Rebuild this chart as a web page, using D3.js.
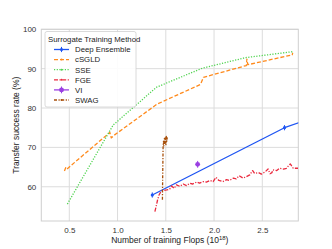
<!DOCTYPE html>
<html><head><meta charset="utf-8">
<script src="https://cdn.jsdelivr.net/npm/d3@7"></script>
<style>body{margin:0;background:#fff}svg{display:block}text{font-family:"Liberation Sans",Arial,sans-serif}</style>
</head><body><svg id="c" width="332" height="249"></svg>
<script>
const xTicks=[0.5,1.0,1.5,2.0,2.5];
const yTicks=[60,70,80,90,100];
const deepEnsemble=[[1.36,57.9],[2.73,75.0],[3.3,79.9]];
const cSGLD=[[0.45,64.0],[0.465,65.0],[0.48,64.6],[0.92,73.8],[0.935,72.4],[0.96,73.0],[1.41,81.0],[1.86,86.0],[1.89,87.8],[2.335,90.8],[2.34,92.4],[2.35,91.0],[2.81,93.5],[2.815,94.0]];
const SSE=[[0.48,55.6],[0.955,75.7],[1.405,85.3],[1.877,90.1],[2.326,92.8],[2.81,94.3],[2.82,94.5]];
const FGE=[[1.387,53.7],[1.40,55.0],[1.415,56.7],[1.43,57.9],[1.45,58.8],[1.473,59.0],[1.51,59.2],[1.54,59.4],[1.56,60.2],[1.587,59.6],[1.61,60.5],[1.645,60.1],[1.68,60.7],[1.715,60.3],[1.75,60.9],[1.78,60.7],[1.82,61.2],[1.85,60.9],[1.89,61.3],[1.92,61.2],[1.96,61.6],[1.99,61.3],[2.02,62.4],[2.05,61.6],[2.09,61.3],[2.13,61.8],[2.16,61.6],[2.20,62.2],[2.23,62.0],[2.26,62.8],[2.30,62.2],[2.33,62.5],[2.37,63.0],[2.40,64.1],[2.42,63.4],[2.46,63.6],[2.49,63.2],[2.53,63.8],[2.56,64.5],[2.58,63.3],[2.60,63.6],[2.61,64.3],[2.65,64.1],[2.68,64.7],[2.72,64.5],[2.75,64.7],[2.79,65.8],[2.82,64.7],[2.87,64.7]];
const VI=[[1.83,65.7]];
const SWAG=[[1.465,56.7],[1.468,63.0],[1.472,70.0],[1.476,71.5],[1.48,70.4],[1.485,72.2],[1.49,70.8],[1.495,72.6],[1.50,71.2],[1.505,72.8],[1.51,71.6],[1.515,72.4],[1.50,70.6]];
const legendLabels=["Deep Ensemble","cSGLD","SSE","FGE","VI","SWAG"];
const colors=["#1f55f2","#ff8a1c","#4fd34f","#ea2a3e","#9a3fe2","#a8500c"];
const dashes=[null,"4,2","1.2,1.5","4,1.5,1.2,1.5",null,"3,1.5,1.2,1.5"];

const svg=d3.select("#c");
const L=41.3,R=298.3,T=29.3,B=221;
const x=d3.scaleLinear().domain([0.21,2.873]).range([L,R]);
const y=d3.scaleLinear().domain([51.3,100]).range([B,T]);

// grid
svg.append("g").selectAll("line").data(xTicks).join("line")
 .attr("x1",d=>x(d)).attr("x2",d=>x(d)).attr("y1",T).attr("y2",B)
 .attr("stroke","#dcdcdc").attr("stroke-width",1);
svg.append("g").selectAll("line").data(yTicks).join("line")
 .attr("x1",L).attr("x2",R).attr("y1",d=>y(d)).attr("y2",d=>y(d))
 .attr("stroke","#dcdcdc").attr("stroke-width",1);
svg.append("rect").attr("x",L).attr("y",T).attr("width",R-L).attr("height",B-T)
 .attr("fill","none").attr("stroke","#cfcfcf").attr("stroke-width",1);

// axes text
const xa=svg.append("g").attr("transform",`translate(0,${B})`).call(d3.axisBottom(x).tickValues(xTicks).tickFormat(d3.format(".1f")).tickSize(0).tickPadding(6));
xa.select(".domain").remove();
xa.selectAll("text").attr("font-size",8).attr("fill","#333").attr("font-family","Liberation Sans, Arial, sans-serif");
const ya=svg.append("g").attr("transform",`translate(${L},0)`).call(d3.axisLeft(y).tickValues(yTicks).tickSize(0).tickPadding(5));
ya.select(".domain").remove();
ya.selectAll("text").attr("font-size",8).attr("fill","#333").attr("font-family","Liberation Sans, Arial, sans-serif");

const xl=svg.append("text").attr("x",(L+R)/2).attr("y",243).attr("text-anchor","middle").attr("font-size",8.5).attr("fill","#222");
xl.append("tspan").text("Number of training Flops (10");
xl.append("tspan").attr("font-size",6).attr("dy",-3).text("18");
xl.append("tspan").attr("dy",3).text(")");
svg.append("text").attr("transform",`translate(19,${(T+B)/2}) rotate(-90)`).attr("text-anchor","middle")
 .attr("font-size",8.5).attr("fill","#222").text("Transfer success rate (%)");

svg.append("clipPath").attr("id","clip").append("rect").attr("x",L).attr("y",T).attr("width",R-L).attr("height",B-T);
const plot=svg.append("g").attr("clip-path","url(#clip)");
const line=d3.line().x(d=>x(d[0])).y(d=>y(d[1]));
const series=[deepEnsemble,cSGLD,SSE,FGE,VI,SWAG];
series.forEach((s,i)=>{
  if(s.length>1){
    plot.append("path").datum(s).attr("d",line).attr("fill","none")
      .attr("stroke",colors[i]).attr("stroke-width",1.3)
      .attr("stroke-dasharray",dashes[i]).attr("stroke-linejoin","round");
  }
});
// markers
function marker(g,cx,cy,c,r){
  g.append("line").attr("x1",cx).attr("x2",cx).attr("y1",cy-r-1).attr("y2",cy+r+1).attr("stroke",c).attr("stroke-width",1);
  g.append("circle").attr("cx",cx).attr("cy",cy).attr("r",r).attr("fill",c);
}
deepEnsemble.forEach(d=>marker(plot,x(d[0]),y(d[1]),colors[0],1.6));
VI.forEach(d=>marker(plot,x(d[0]),y(d[1]),colors[4],2.4));

// legend
const lg=svg.append("g");
lg.append("rect").attr("x",45).attr("y",31.5).attr("width",91).attr("height",75.5).attr("rx",2)
 .attr("fill","#fff").attr("fill-opacity",0.9).attr("stroke","#d0d0d0").attr("stroke-width",0.8);
lg.append("text").attr("x",48).attr("y",41.5).attr("font-size",7.8).attr("fill","#222").text("Surrogate Training Method");
legendLabels.forEach((lab,i)=>{
  const yy=49.5+i*10.1;
  lg.append("line").attr("x1",54).attr("x2",69).attr("y1",yy).attr("y2",yy)
    .attr("stroke",colors[i]).attr("stroke-width",1.3).attr("stroke-dasharray",dashes[i]);
  if(i===0) marker(lg,61.5,yy,colors[i],1.6);
  else if(i===4) marker(lg,61.5,yy,colors[i],2.4);
  else lg.append("circle").attr("cx",61.5).attr("cy",yy).attr("r",1).attr("fill",colors[i]);
  lg.append("text").attr("x",75).attr("y",yy+2.8).attr("font-size",7.8).attr("fill","#222").text(lab);
});
</script></body></html>
